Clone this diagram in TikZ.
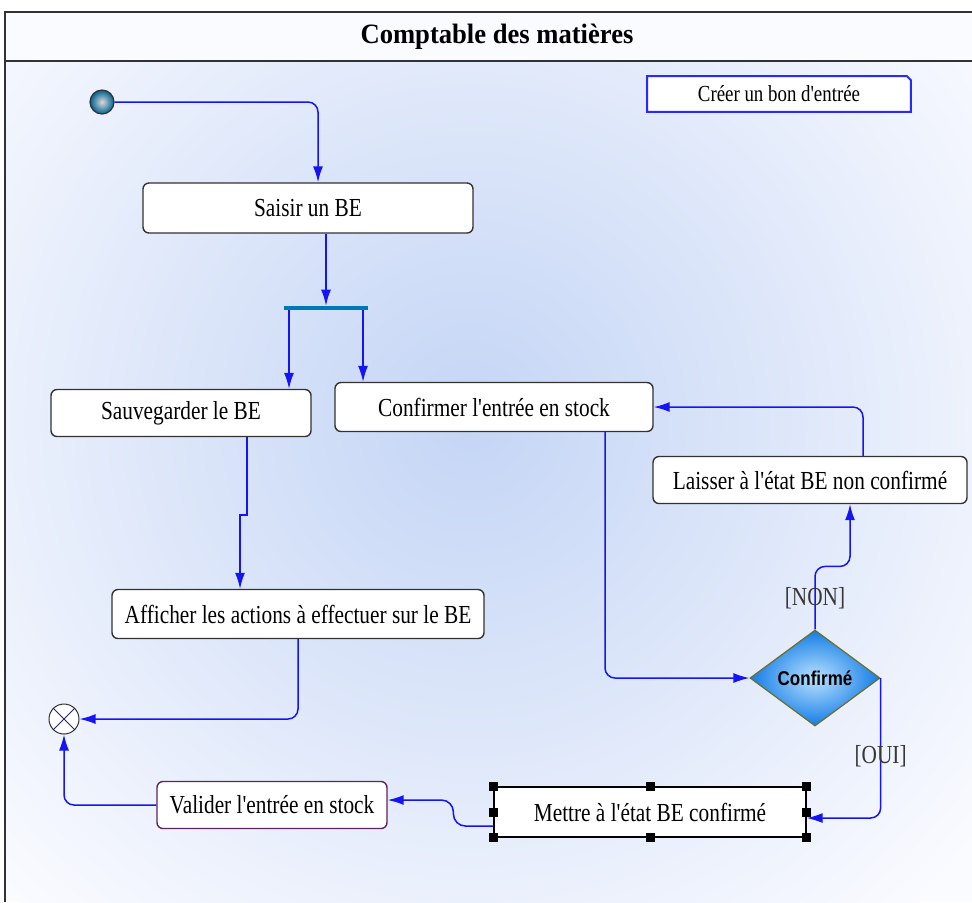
\documentclass[tikz,border=0pt]{standalone}
\usepackage{fontspec}
\usepackage{xcolor}
\usepackage{tikz}
\usetikzlibrary{shapes,arrows.meta,positioning,calc}
\newfontfamily\umlfont[FakeStretch=0.82]{Liberation Serif}
\newfontfamily\umltitle[FakeStretch=0.95]{Liberation Serif}
\newfontfamily\umlsans[FakeStretch=0.85]{Liberation Sans}
\definecolor{FlowBlue}{RGB}{20, 20, 245}
\definecolor{FrameGray}{RGB}{50, 50, 50}
\definecolor{ForkTeal}{RGB}{0, 120, 180}
\definecolor{ValidPurple}{RGB}{95, 35, 95}
\definecolor{NoteBlue}{RGB}{40, 40, 255}
\definecolor{BgBlue}{RGB}{196, 213, 245}
\definecolor{BgLight}{RGB}{250, 251, 255}
\definecolor{DiamondLight}{RGB}{185, 225, 255}
\definecolor{DiamondBlue}{RGB}{20, 125, 230}
\definecolor{DiamondEdge}{RGB}{110, 110, 40}
\definecolor{GuardGray}{RGB}{55, 55, 55}
\tikzstyle{action} = [rectangle, rounded corners=3pt, draw=FrameGray, fill=white, line width=0.7pt, inner sep=0pt, text centered, font=\umlfont\fontsize{13}{15}\selectfont]
\tikzstyle{selected} = [rectangle, draw=black, fill=white, line width=0.6pt, inner sep=0pt, text centered, font=\umlfont\fontsize{13}{15}\selectfont]
\tikzstyle{decision} = [diamond, aspect=1.35, minimum width=65pt, minimum height=48pt, inner sep=0pt, inner color=DiamondLight, outer color=DiamondBlue, draw=DiamondEdge, line width=0.6pt, font=\umlsans\fontsize{10}{12}\selectfont\bfseries]
\tikzstyle{initial} = [circle, minimum size=12pt, inner sep=0pt, inner color=black!15, outer color=ForkTeal!80!black, draw=FrameGray, line width=0.6pt]
\tikzstyle{final} = [circle, minimum size=15pt, inner sep=0pt, fill=white, draw=FrameGray, line width=0.5pt]
\tikzstyle{fork} = [rectangle, minimum width=42pt, minimum height=2pt, inner sep=0pt, fill=ForkTeal]
\tikzstyle{note} = [rectangle, minimum width=131.5pt, minimum height=17.5pt, inner sep=0pt, fill=white, font=\umlfont\fontsize{11.5}{13}\selectfont]
\tikzstyle{guard} = [inner sep=1pt, text=GuardGray, font=\umlfont\fontsize{13}{15}\selectfont]
\tikzstyle{flow} = [draw=FlowBlue, line width=0.75pt, -{Latex[length=8pt,width=5pt]}, rounded corners=5pt]

\begin{document}
\begin{tikzpicture}[x=0.5pt, y=-0.5pt]
\useasboundingbox (0,0) rectangle (972,902);

% Fond et cadre
\fill[white] (0,0) rectangle (972,902);
\fill[BgLight] (5,12) rectangle (972,902);
\begin{scope}
\clip (5,61) rectangle (972,902);
\shade[inner color=BgBlue, outer color=BgLight] (470,420) circle (330pt);
\end{scope}
\draw[FrameGray, line width=1pt] (972,12) -- (5,12) -- (5,902);
\draw[FrameGray, line width=1pt] (5,61) -- (972,61);
\node (title) at (497,37) {\umltitle\fontsize{14}{16}\selectfont\bfseries Comptable des matières};

% Note
\node (note) [note] at (779,94) {Créer un bon d'entrée};
\draw[NoteBlue, line width=1pt] (note.south west) -- (note.north west) -- ([xshift=-2pt]note.north east) -- ([yshift=-2pt]note.north east) -- (note.south east) -- cycle;

% Noeuds
\node (init) [initial] at (102,102) {};
\node (saisir) [action, minimum width=165pt, minimum height=25pt] at (308,208) {Saisir un BE};
\node (fork) [fork] at (326,308) {};
\node (sauve) [action, minimum width=130pt, minimum height=23.5pt] at (181,413) {Sauvegarder le BE};
\node (confirmer) [action, minimum width=159pt, minimum height=24.5pt] at (494,407) {Confirmer l'entrée en stock};
\node (affich) [action, minimum width=186pt, minimum height=24.5pt] at (298,614) {Afficher les actions à effectuer sur le BE};
\node (laisser) [action, minimum width=157pt, minimum height=23.5pt] at (810,480) {Laisser à l'état BE non confirmé};
\node (decision) [decision] at (815,678) {Confirmé};
\node (mettre) [selected, minimum width=156pt, minimum height=25pt] at (650,812) {Mettre à l'état BE confirmé};
\node (valider) [action, draw=ValidPurple, minimum width=115pt, minimum height=23.5pt] at (272,805) {Valider l'entrée en stock};
\node (final) [final] at (64,719) {};
\draw[FrameGray!70!blue, line width=0.5pt] (final.north west) -- (final.south east);
\draw[FrameGray!70!blue, line width=0.5pt] (final.north east) -- (final.south west);

% Poignees de selection
\foreach \a in {north west, north, north east, west, east, south west, south, south east}
  \fill[black] (mettre.\a) ++(-2.25pt,-2.25pt) rectangle ++(4.5pt,4.5pt);

% Flèches
\draw [flow] (init) -| ([xshift=5pt]saisir.north);
\draw [flow] (saisir.south -| fork) -- (fork.north);
\draw [flow] ([xshift=-18.5pt]fork.south) -- ([xshift=-18.5pt]fork.south |- sauve.north);
\draw [flow] ([xshift=18.5pt]fork.south) -- ([xshift=18.5pt]fork.south |- confirmer.north);
\draw [flow, sharp corners] ([xshift=33pt]sauve.south) -- ++(0,78) -| ([xshift=-29pt]affich.north);
\draw [flow] (affich.south) |- (final.east);
\draw [flow] (valider.west) -| (final.south);
\draw [flow, rounded corners=6pt] ([yshift=-7pt]mettre.west) -- ++(-40,0) -- ++(0,-26) -- ([yshift=2.5pt]valider.east);
\draw [flow] ([xshift=55.5pt]confirmer.south) |- (decision.west);
\draw [flow] (decision.north) -- node[guard] {[NON]} ++(0,-63) -| ([xshift=20pt]laisser.south);
\draw [flow] ([xshift=26.5pt]laisser.north) |- (confirmer.east);
\draw [flow] (decision.east) |- node[guard, pos=0.28] {[OUI]} ([yshift=-3pt]mettre.east);

\end{tikzpicture}
\end{document}
